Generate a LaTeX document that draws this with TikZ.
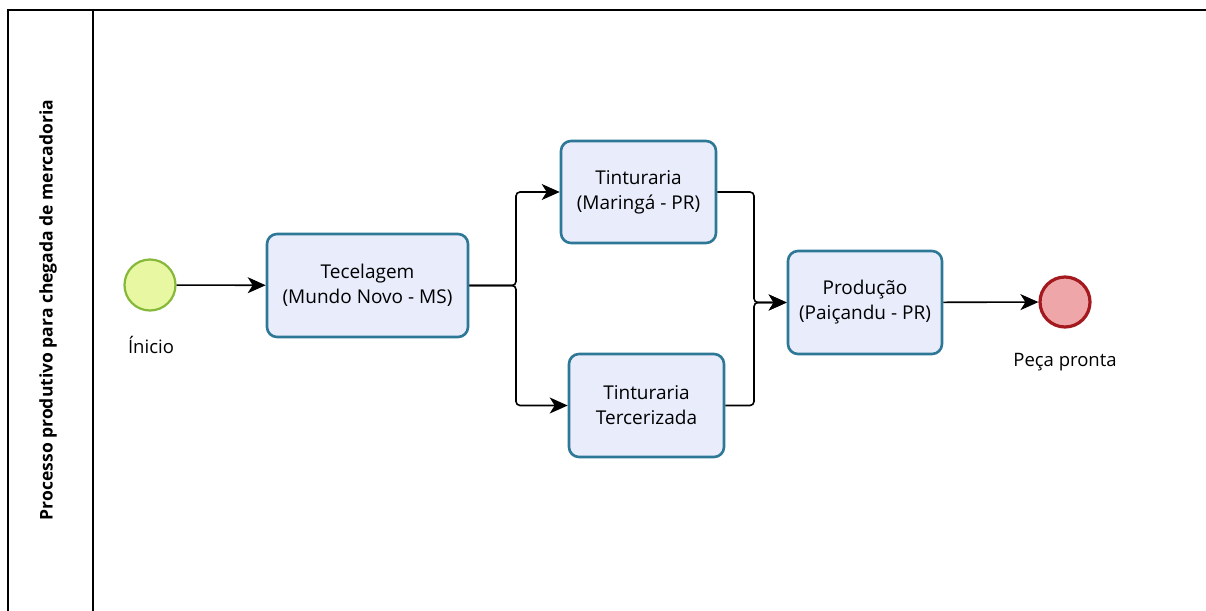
\documentclass[tikz,border=0pt]{standalone}
\usepackage{fontspec}
\setmainfont{Open Sans}
\usetikzlibrary{arrows.meta}
\definecolor{taskfill}{HTML}{E8ECFB}
\definecolor{taskline}{HTML}{2D7896}
\definecolor{startfill}{HTML}{E8F7A2}
\definecolor{startline}{HTML}{86B83A}
\definecolor{endfill}{HTML}{EFA6A8}
\definecolor{endline}{HTML}{A3191E}
\tikzset{
  task/.style={draw=taskline, fill=taskfill, line width=2.6pt, rounded corners=10pt,
    align=center, font=\fontsize{19}{25}\selectfont, inner sep=0pt},
  startev/.style={circle, draw=startline, fill=startfill, line width=2.2pt, minimum size=51pt, inner sep=0pt},
  endev/.style={circle, draw=endline, fill=endfill, line width=3.2pt, minimum size=50pt, inner sep=0pt},
  evlabel/.style={font=\fontsize{18.5}{22}\selectfont},
  flow/.style={line width=1.6pt, rounded corners=4pt, -{Stealth[length=18pt,width=16pt,inset=5pt]}}
}
\newcommand\tasknode[6]{
  \node[task, minimum width=#4pt, minimum height=#5pt] (#1) at (#2,#3) {#6};
}

\begin{document}
\begin{tikzpicture}[x=1pt, y=-1pt]
  \useasboundingbox (0,0) rectangle (1206,610);
  \fill[white] (0,0) rectangle (1206,610);
  \draw[line width=1.3pt] (8,10) rectangle (1230,640);
  \draw[line width=1.3pt] (93,10) -- (93,640);
  \node[rotate=90, font=\bfseries\fontsize{17.5}{20}\selectfont] (lane) at (48,310)
    {Processo produtivo para chegada de mercadoria};

  \node[startev] (inicio) at (150,285) {};
  \node[evlabel] (inicioLbl) at (151,345) {Ínicio};

  \tasknode{tec}{367.5}{285.5}{201}{103}{Tecelagem\\(Mundo Novo - MS)}
  \tasknode{tinA}{638.5}{192}{155}{102}{Tinturaria\\(Maringá - PR)}
  \tasknode{tinB}{646.5}{405.5}{155}{103}{Tinturaria\\Tercerizada}
  \tasknode{prod}{865}{302.5}{154}{103}{Produção\\(Paiçandu - PR)}

  \node[endev] (fim) at (1065,302) {};
  \node[evlabel] (fimLbl) at (1065,362) {Peça pronta};

  \coordinate (split) at (516,285.5);
  \coordinate (join) at (754,302.5);

  \draw[flow] (inicio) -- (tec);
  \draw[flow] (tec.east) -- (split) |- (tinA.west);
  \draw[flow] (tec.east) -- (split) |- (tinB.west);
  \draw[flow] (tinA.east) -| (join) -- (prod.west);
  \draw[flow] (tinB.east) -| (join) -- (prod.west);
  \draw[flow] (prod) -- (fim);
\end{tikzpicture}
\end{document}
